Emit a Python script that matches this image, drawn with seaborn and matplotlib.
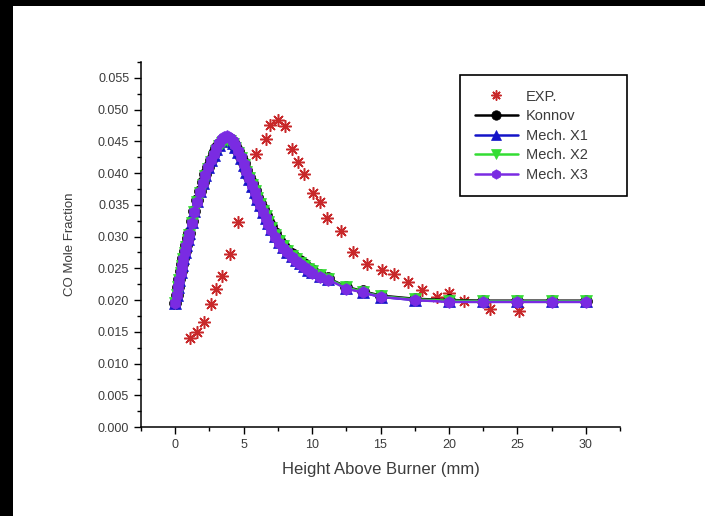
import matplotlib
matplotlib.use("Agg")
import matplotlib.pyplot as plt
import seaborn as sns
from matplotlib.patches import Rectangle
from matplotlib.ticker import MultipleLocator, FormatStrFormatter

# ---------------- data ----------------
exp_x = [1.1, 1.6, 2.1, 2.6, 3.0, 3.4, 4.0, 4.6, 5.9, 6.6, 6.9, 7.5, 8.0, 8.5,
         9.0, 9.4, 10.1, 10.6, 11.1, 12.1, 13.0, 14.0, 15.1, 16.0, 17.0, 18.0,
         19.1, 20.0, 21.1, 23.0, 25.1]
exp_y = [0.0140, 0.0150, 0.0166, 0.0194, 0.0217, 0.0238, 0.0272, 0.0323, 0.0430,
         0.0453, 0.0476, 0.0484, 0.0474, 0.0438, 0.0418, 0.0399, 0.0369, 0.0355,
         0.0329, 0.0308, 0.0275, 0.0257, 0.0247, 0.0241, 0.0228, 0.0216, 0.0205,
         0.0211, 0.0198, 0.0186, 0.0183]

model_x = [0, 0.1, 0.2, 0.3, 0.4, 0.5, 0.6, 0.7, 0.8, 0.9,
           1.0, 1.2, 1.4, 1.6, 1.8, 2.0, 2.2, 2.4, 2.6, 2.8,
           3.0, 3.2, 3.4, 3.6, 3.8, 4.0, 4.2, 4.4, 4.6, 4.8,
           5.0, 5.2, 5.4, 5.6, 5.8, 6.0, 6.2, 6.4, 6.6, 6.8,
           7.0, 7.3, 7.6, 7.9, 8.2, 8.5, 8.8, 9.1, 9.4, 9.7,
           10.0, 10.6, 11.2, 12.5, 13.7, 15.0, 17.5, 20.0, 22.5, 25.0,
           27.5, 30.0]

konnov = [0.0195, 0.0208, 0.0221, 0.0233, 0.0245, 0.0256, 0.0267, 0.0277, 0.0287, 0.0297,
          0.0306, 0.0324, 0.0341, 0.0357, 0.0372, 0.0386, 0.0398, 0.0410, 0.0421, 0.0431,
          0.0439, 0.0446, 0.0451, 0.0454, 0.0455, 0.0453, 0.0449, 0.0443, 0.0435, 0.0426,
          0.0416, 0.0405, 0.0394, 0.0384, 0.0373, 0.0363, 0.0353, 0.0343, 0.0334, 0.0325,
          0.0316, 0.0305, 0.0295, 0.0287, 0.0279, 0.0272, 0.0266, 0.0261, 0.0256, 0.0251,
          0.0247, 0.0240, 0.0234, 0.0221, 0.0214, 0.0207, 0.0202, 0.0200, 0.0199, 0.0199,
          0.0199, 0.0199]

mech_x1 = [0.0196, 0.0208, 0.0220, 0.0232, 0.0244, 0.0255, 0.0266, 0.0276, 0.0286, 0.0296,
           0.0305, 0.0323, 0.0340, 0.0356, 0.0371, 0.0385, 0.0397, 0.0409, 0.0420, 0.0429,
           0.0438, 0.0445, 0.0450, 0.0453, 0.0454, 0.0452, 0.0448, 0.0441, 0.0433, 0.0423,
           0.0413, 0.0402, 0.0391, 0.0380, 0.0370, 0.0359, 0.0349, 0.0339, 0.0330, 0.0321,
           0.0312, 0.0301, 0.0291, 0.0283, 0.0276, 0.0269, 0.0263, 0.0258, 0.0253, 0.0248,
           0.0244, 0.0238, 0.0233, 0.0219, 0.0212, 0.0205, 0.0200, 0.0198, 0.0198, 0.0198,
           0.0198, 0.0198]

mech_x2 = [0.0196, 0.0208, 0.0220, 0.0231, 0.0243, 0.0254, 0.0264, 0.0274, 0.0284, 0.0294,
           0.0303, 0.0321, 0.0338, 0.0354, 0.0369, 0.0382, 0.0395, 0.0406, 0.0417, 0.0426,
           0.0435, 0.0442, 0.0447, 0.0451, 0.0452, 0.0450, 0.0446, 0.0440, 0.0432, 0.0423,
           0.0413, 0.0402, 0.0392, 0.0381, 0.0371, 0.0361, 0.0351, 0.0341, 0.0332, 0.0323,
           0.0314, 0.0303, 0.0293, 0.0285, 0.0277, 0.0270, 0.0264, 0.0259, 0.0254, 0.0249,
           0.0245, 0.0239, 0.0233, 0.0220, 0.0213, 0.0206, 0.0201, 0.0199, 0.0198, 0.0198,
           0.0198, 0.0198]

mech_x3 = [0.0196, 0.0208, 0.0220, 0.0232, 0.0243, 0.0254, 0.0265, 0.0275, 0.0285, 0.0295,
           0.0304, 0.0322, 0.0339, 0.0355, 0.0370, 0.0384, 0.0397, 0.0409, 0.0420, 0.0430,
           0.0439, 0.0447, 0.0453, 0.0457, 0.0458, 0.0456, 0.0451, 0.0444, 0.0435, 0.0425,
           0.0414, 0.0403, 0.0392, 0.0381, 0.0370, 0.0359, 0.0349, 0.0339, 0.0329, 0.0320,
           0.0311, 0.0300, 0.0290, 0.0282, 0.0275, 0.0268, 0.0262, 0.0257, 0.0252, 0.0247,
           0.0243, 0.0237, 0.0232, 0.0218, 0.0212, 0.0205, 0.0200, 0.0197, 0.0197, 0.0197,
           0.0197, 0.0197]

x_ticks = [0, 5, 10, 15, 20, 25, 30]

# ---------------- style ----------------
sns.set_style("ticks")
plt.rcParams["font.family"] = ["Liberation Sans", "DejaVu Sans"]
TXT = "#3c3c3c"

fig = plt.figure(figsize=(7.05, 5.16), dpi=100)
fig.patch.set_facecolor("white")
# black frame strips at top and left of the image
fig.patches.append(Rectangle((0, 1 - 6 / 516), 1, 6 / 516, transform=fig.transFigure,
                             facecolor="black", edgecolor="none", zorder=10))
fig.patches.append(Rectangle((0, 0), 13 / 705, 1, transform=fig.transFigure,
                             facecolor="black", edgecolor="none", zorder=10))

ax = fig.add_axes([141 / 705, 1 - 427 / 516, (620 - 141) / 705, (427 - 62) / 516])

red = "#c8282a"
sns.lineplot(x=exp_x, y=exp_y, ax=ax, linestyle="none", marker=(8, 2, 0),
             markersize=9, markeredgecolor=red, markeredgewidth=1.1, color=red,
             label="EXP.", zorder=3)

series = [("Konnov", konnov, "black", "o"),
          ("Mech. X1", mech_x1, "#1414c8", "^"),
          ("Mech. X2", mech_x2, "#33dd33", "v"),
          ("Mech. X3", mech_x3, "#7a2be2", "h")]
for i, (name, vals, col, mk) in enumerate(series):
    sns.lineplot(x=model_x, y=vals, ax=ax, color=col, marker=mk, markersize=8.5,
                 markeredgecolor=col, markeredgewidth=0.5, linewidth=1.8,
                 label=name, zorder=4 + i)

ax.set_xlim(-2.5, 32.5)
ax.set_ylim(0, 0.0575)
ax.set_xticks(x_ticks)
ax.xaxis.set_minor_locator(MultipleLocator(2.5))
ax.yaxis.set_major_locator(MultipleLocator(0.005))
ax.yaxis.set_minor_locator(MultipleLocator(0.0025))
ax.yaxis.set_major_formatter(FormatStrFormatter("%.3f"))

sns.despine(ax=ax)
for s in ("left", "bottom"):
    ax.spines[s].set_linewidth(1.1)
    ax.spines[s].set_color("black")
ax.tick_params(which="major", direction="out", length=5, width=1.0, colors="black",
               labelcolor=TXT, labelsize=9)
ax.tick_params(which="minor", direction="out", length=3, width=1.0, colors="black")

ax.set_xlabel("Height Above Burner (mm)", fontsize=12, color=TXT, labelpad=8)
ax.set_ylabel("CO Mole Fraction", fontsize=9.5, color=TXT, labelpad=16)

handles, labels = ax.get_legend_handles_labels()
leg = ax.legend(handles, labels, loc="upper left", mode="expand",
                bbox_to_anchor=(460 / 705, 1 - 197 / 516, 167 / 705, 122 / 516),
                bbox_transform=fig.transFigure,
                frameon=True, fancybox=False, edgecolor="black", framealpha=1,
                fontsize=10.5, handlelength=3.0, labelspacing=0.38, borderpad=1.0,
                handletextpad=0.5, borderaxespad=0, markerscale=0.8)
leg.get_frame().set_linewidth(1.2)
for t in leg.get_texts():
    t.set_color(TXT)

fig.savefig("out.png", dpi=100)
